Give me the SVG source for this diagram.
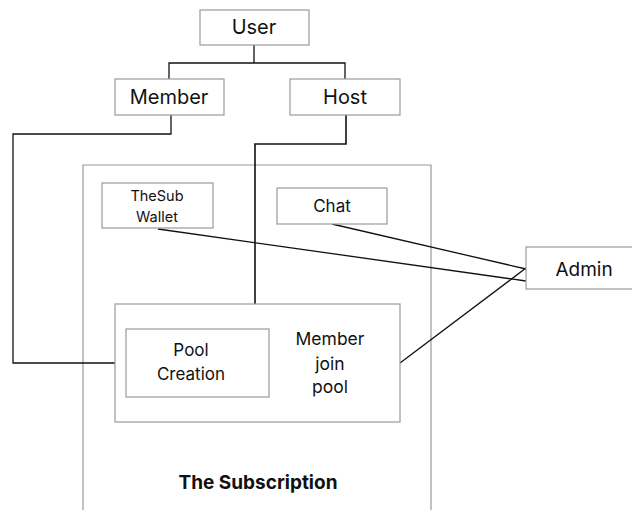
<svg xmlns="http://www.w3.org/2000/svg" width="632" height="510" viewBox="0 0 632 510">
  <style>
    .box { fill: #ffffff; stroke: #9a9a9a; stroke-width: 1.2; }
    .frame { fill: none; stroke: #9a9a9a; stroke-width: 1.2; }
    .wire { fill: none; stroke: #111111; stroke-width: 1.3; }
    .lbl { font-family: Inter, "Liberation Sans", sans-serif; fill: #111111; text-anchor: middle; }
    .big { font-size: 20px; }
    .mid { font-size: 17px; }
    .join { font-size: 17.5px; }
    .adm { font-size: 19px; }
    .small { font-size: 14.5px; }
    .title { font-size: 19px; font-weight: bold; }
  </style>
  <rect x="0" y="0" width="632" height="510" fill="#ffffff"/>

  <!-- subscription container -->
  <g id="subscription">
    <path class="frame" d="M83,512 V165 H431 V512"/>
    <text class="lbl title" x="258" y="489">The Subscription</text>
  </g>

  <g id="connectors">
    <path class="wire" d="M254,45 V63 M169,79 V63 H345 V79"/>
    <path class="wire" d="M171,115 V134 H13 V363 H115"/>
    <path class="wire" d="M346,115 V144 H255 V304" style="stroke-width:1.6"/>
    <path class="wire" d="M158,229 L526,281"/>
    <path class="wire" d="M332,224 L526,269"/>
    <path class="wire" d="M400,363 L526,268"/>
  </g>

  <g id="user">
    <rect class="box" x="200" y="10" width="109" height="35"/>
    <text class="lbl big" x="254" y="34">User</text>
  </g>
  <g id="member">
    <rect class="box" x="115" y="79" width="109" height="36"/>
    <text class="lbl big" x="169" y="104">Member</text>
  </g>
  <g id="host">
    <rect class="box" x="290" y="79" width="110" height="36"/>
    <text class="lbl big" x="345" y="104">Host</text>
  </g>
  <g id="wallet">
    <rect class="box" x="102" y="183" width="111" height="45"/>
    <text class="lbl small" x="157" y="201">TheSub</text>
    <text class="lbl small" x="157" y="222">Wallet</text>
  </g>
  <g id="chat">
    <rect class="box" x="277" y="188" width="110" height="36"/>
    <text class="lbl mid" x="332" y="212">Chat</text>
  </g>
  <g id="pool-group">
    <rect class="box" x="115" y="304" width="285" height="118"/>
    <text class="lbl join" x="330" y="345">Member</text>
    <text class="lbl join" x="330" y="370">join</text>
    <text class="lbl join" x="330" y="393">pool</text>
  </g>
  <g id="pool-creation">
    <rect class="box" x="126" y="329" width="143" height="68"/>
    <text class="lbl mid" x="191" y="356">Pool</text>
    <text class="lbl mid" x="191" y="380">Creation</text>
  </g>
  <g id="admin">
    <rect class="box" x="526" y="247" width="110" height="42"/>
    <text class="lbl adm" x="584" y="276">Admin</text>
  </g>
</svg>
